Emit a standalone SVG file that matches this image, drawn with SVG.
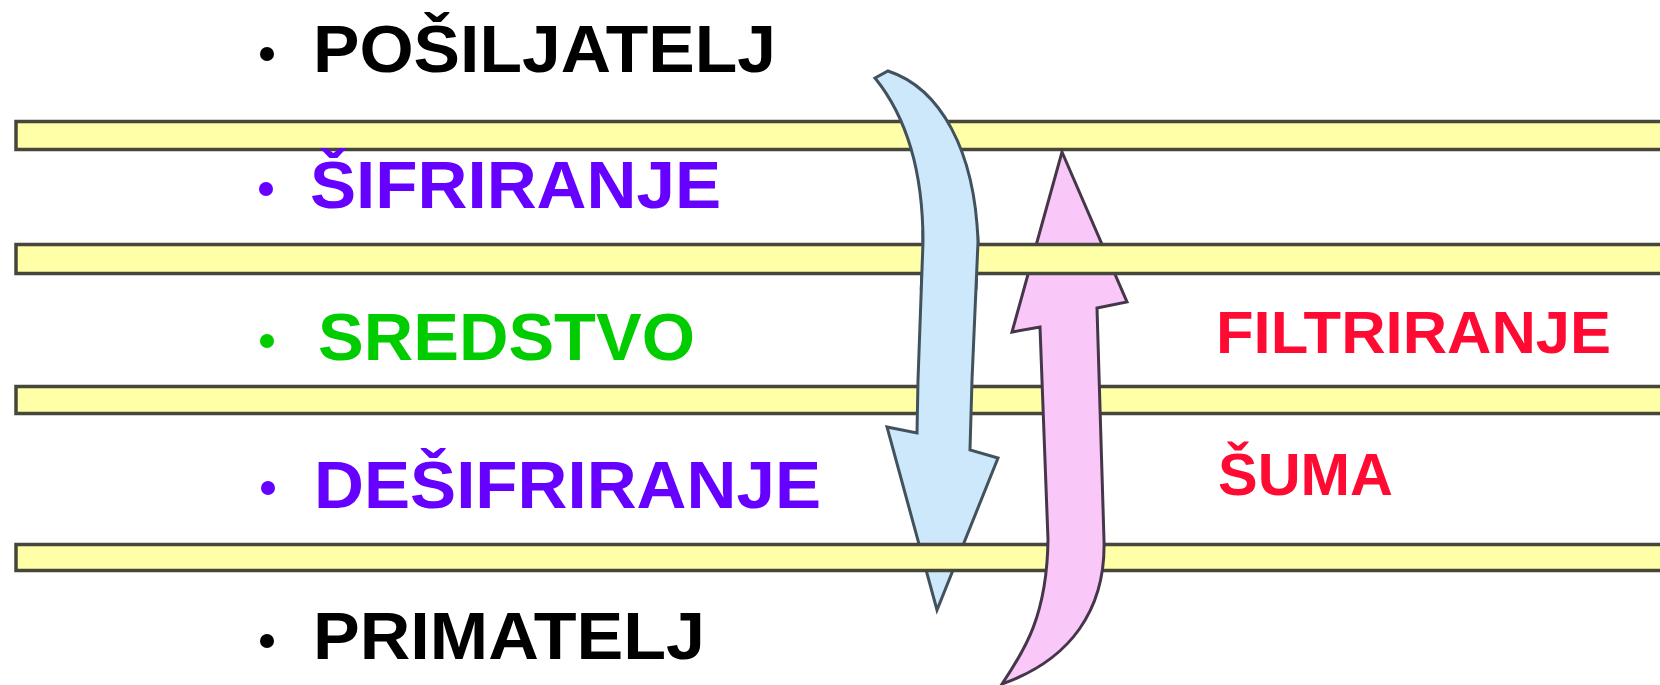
<svg xmlns="http://www.w3.org/2000/svg" xmlns:xlink="http://www.w3.org/1999/xlink" width="1660" height="685" viewBox="0 0 1660 685">
  <style>
    .bar { fill: #ffffa8; stroke: #46463a; stroke-width: 3.5; }
    .lbl { font-family: "Liberation Sans", Arial, sans-serif; font-weight: bold; font-size: 67px; }
    .side { font-family: "Liberation Sans", Arial, sans-serif; font-weight: bold; font-size: 60px; fill: #ff0a33; }
    .blue { fill: #cce8fa; stroke: #42525c; stroke-width: 3; stroke-linejoin: miter; }
    .pink { fill: #f9c8f9; stroke: #46364a; stroke-width: 3; stroke-linejoin: miter; }
  </style>
  <defs>
    <path id="blueArrow" d="M 875 78 L 888 71 C 940 88, 975 150, 978 242 L 972 380 L 970 450 L 998 458 L 937 610 L 887 427 L 917 433 L 918 380 L 923 242 C 923 170, 905 115, 875 78 Z"/>
    <clipPath id="bar2clip"><rect x="0" y="230" width="1660" height="60"/></clipPath>
  </defs>
  <rect width="1660" height="685" fill="#ffffff"/>

  <g id="layer-bars-back">
    <rect id="bar1" class="bar" x="16" y="121.5" width="1660" height="28"/>
    <rect id="bar3" class="bar" x="16" y="386.5" width="1660" height="27"/>
  </g>

  <g id="connectors">
    <use xlink:href="#blueArrow" class="blue"/>
    <rect id="bar4" class="bar" x="16" y="544.5" width="1660" height="26"/>
    <path id="pinkArrow" class="pink" d="M 1062 152 L 1127 302 L 1097 308 L 1104 540 C 1106 610, 1070 660, 1002 684 C 1025 650, 1047 615, 1048 540 L 1040 327 L 1012 332 Z"/>
    <rect id="bar2" class="bar" x="16" y="244.5" width="1660" height="29"/>
    <use xlink:href="#blueArrow" class="blue" clip-path="url(#bar2clip)"/>
  </g>

  <g id="node-posiljatelj">
    <circle cx="267" cy="54" r="7" fill="#000000"/>
    <text class="lbl" x="313" y="72" fill="#000000" textLength="463" lengthAdjust="spacingAndGlyphs">POŠILJATELJ</text>
  </g>
  <g id="node-sifriranje">
    <circle cx="266" cy="189" r="7" fill="#6600ff"/>
    <text class="lbl" x="310" y="208" fill="#6600ff" textLength="411" lengthAdjust="spacingAndGlyphs">ŠIFRIRANJE</text>
  </g>
  <g id="node-sredstvo">
    <circle cx="267" cy="341" r="7" fill="#00cc00"/>
    <text class="lbl" x="318" y="360" fill="#00cc00" textLength="377" lengthAdjust="spacingAndGlyphs">SREDSTVO</text>
  </g>
  <g id="node-desifriranje">
    <circle cx="268" cy="488" r="7" fill="#6600ff"/>
    <text class="lbl" x="314" y="508" fill="#6600ff" textLength="507" lengthAdjust="spacingAndGlyphs">DEŠIFRIRANJE</text>
  </g>
  <g id="node-primatelj">
    <circle cx="267" cy="641" r="7" fill="#000000"/>
    <text class="lbl" x="313" y="659" fill="#000000" textLength="392" lengthAdjust="spacingAndGlyphs">PRIMATELJ</text>
  </g>
  <g id="node-filtriranje">
    <text class="side" x="1216" y="353" textLength="395" lengthAdjust="spacingAndGlyphs">FILTRIRANJE</text>
  </g>
  <g id="node-suma">
    <text class="side" x="1218" y="495" textLength="175" lengthAdjust="spacingAndGlyphs">ŠUMA</text>
  </g>
</svg>
